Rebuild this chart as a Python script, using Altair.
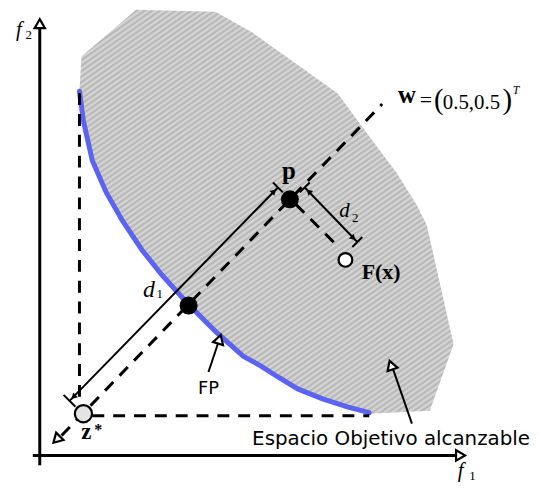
import altair as alt
import pandas as pd

# ---- geometry (image pixel coordinates, y downward) ----
region_x = [82, 137, 217, 253, 340, 373, 400, 420, 430, 457, 433, 372]
region_y = [55, 8, 10, 30, 92, 137, 173, 205, 225, 345, 412, 415]
front_x = [80, 84, 93, 107, 123, 143, 163, 190, 217, 245, 263, 280, 300, 325, 350, 372]
front_y = [90, 120, 160, 192, 220, 250, 275, 305, 332, 357, 367, 378, 390, 400, 408, 414]

axis_seg = [0, 0, 1, 1]
axis_x = [40, 40, 33, 461]
axis_y = [467, 24, 457, 457]

dash_seg = [0, 0, 1, 1, 2, 2, 3, 3]
dash_x = [80, 80, 93, 372, 62, 385, 298, 340]
dash_y = [92, 400, 417, 417, 437, 103, 204, 246]

solid_seg = [0, 0, 1, 1, 2, 2, 3, 3, 4, 4, 5, 5, 6, 6, 7, 7]
solid_x = [70, 280, 64, 76, 275, 285, 307, 360, 302, 312, 355, 365, 210, 220, 415, 396]
solid_y = [402, 187, 396, 408, 182, 192, 187, 242, 192, 182, 247, 237, 373, 343, 425, 370]

head_x = [40, 464, 57, 221, 394]
head_y = [22, 457, 441, 340, 366]
head_angle = [0, 90, 225, 17, 341]

small_head_x = [74, 276, 311, 356]
small_head_y = [398, 191, 191, 238]
small_head_angle = [225, 45, 315, 135]

dot_x = [190, 292]
dot_y = [306, 199]

zstar_x, zstar_y = [84], [415]
fx_x, fx_y = [348], [260]

W, H = 523, 473
xs = alt.Scale(domain=[8, 8 + W], nice=False, zero=False)
ys = alt.Scale(domain=[8 + H, 8], nice=False, zero=False)


def enc(**kw):
    return dict(x=alt.X("x:Q", scale=xs, axis=None), y=alt.Y("y:Q", scale=ys, axis=None), **kw)


# hatched grey fill (diagonal stripes) as a repeating linear gradient
stripe_light, stripe_dark = "#dadada", "#b3b3b3"
n_half = 240
stops = [alt.GradientStop(offset=i / n_half, color=stripe_light if i % 2 == 0 else stripe_dark)
         for i in range(n_half + 1)]
hatch = alt.LinearGradient(gradient="linear", stops=stops, x1=0, y1=0, x2=0.74, y2=1.14)

poly = pd.DataFrame({"x": region_x + front_x[::-1], "y": region_y + front_y[::-1]})
poly["o"] = range(len(poly))
region = alt.Chart(poly).mark_line(fill=hatch, strokeWidth=0).encode(**enc(order="o:Q"))

fdf = pd.DataFrame({"x": front_x, "y": front_y, "o": range(len(front_x))})
front = alt.Chart(fdf).mark_line(color="#5b63f2", strokeWidth=5, strokeCap="round").encode(
    **enc(order="o:Q"))


def segs(sx, sy, sg):
    d = pd.DataFrame({"x": sx, "y": sy, "s": sg})
    d["o"] = range(len(d))
    return d


axes = alt.Chart(segs(axis_x, axis_y, axis_seg)).mark_line(color="black", strokeWidth=3).encode(
    **enc(detail="s:N", order="o:Q"))
dashed = alt.Chart(segs(dash_x, dash_y, dash_seg)).mark_line(
    color="black", strokeWidth=3, strokeDash=[12, 9]).encode(**enc(detail="s:N", order="o:Q"))
solid = alt.Chart(segs(solid_x, solid_y, solid_seg)).mark_line(color="black", strokeWidth=2).encode(
    **enc(detail="s:N", order="o:Q"))

heads = alt.Chart(pd.DataFrame({"x": head_x, "y": head_y, "a": head_angle})).mark_point(
    shape="triangle-up", filled=True, fill="white", stroke="black", strokeWidth=2.2,
    size=110, opacity=1).encode(**enc(angle=alt.Angle("a:Q", scale=None)))
small_heads = alt.Chart(pd.DataFrame({"x": small_head_x, "y": small_head_y, "a": small_head_angle})).mark_point(
    shape="triangle-up", filled=True, color="black", size=45, opacity=1).encode(
    **enc(angle=alt.Angle("a:Q", scale=None)))

dots = alt.Chart(pd.DataFrame({"x": dot_x, "y": dot_y})).mark_point(
    shape="circle", filled=True, color="black", size=330, opacity=1).encode(**enc())
zstar = alt.Chart(pd.DataFrame({"x": zstar_x, "y": zstar_y})).mark_point(
    shape="circle", filled=True, fill="#e4e4e4", stroke="black", strokeWidth=2.2, size=300,
    opacity=1).encode(**enc())
fx = alt.Chart(pd.DataFrame({"x": fx_x, "y": fx_y})).mark_point(
    shape="circle", filled=True, fill="white", stroke="black", strokeWidth=2.2, size=190,
    opacity=1).encode(**enc())


def txt(xv, yv, tv, **kw):
    d = pd.DataFrame({"x": xv, "y": yv, "t": tv})
    base = dict(baseline="alphabetic", align="center", color="black")
    base.update(kw)
    return alt.Chart(d).mark_text(**base).encode(**enc(text="t:N"))


serif = "Liberation Serif"
sans = "DejaVu Sans"

f_lbl = txt([19, 464], [34, 479], ["f", "f"], font=serif, fontStyle="italic", fontSize=21)
d1_lbl = txt([150], [297], ["d"], font=serif, fontStyle="italic", fontSize=24)
d2_lbl = txt([347], [217], ["d"], font=serif, fontStyle="italic", fontSize=21)
subs = txt([29, 476, 161, 358], [37, 482, 298, 222], ["2", "1", "1", "2"],
           font=serif, fontSize=13)
w_lbl = txt([410], [102], ["w"], font=serif, fontWeight="bold", fontSize=25)
p_lbl = txt([291], [178], ["p"], font=serif, fontWeight="bold", fontSize=25)
eq = txt([429], [106], ["="], font=serif, fontSize=22)
parens = txt([442, 511], [108, 108], ["(", ")"], font=serif, fontSize=29)
nums = txt([475], [108], ["0.5,0.5"], font=serif, fontSize=21)
sup_t = txt([520], [93], ["T"], font=serif, fontStyle="italic", fontSize=12)
fx_lbl = txt([384], [279], ["F(x)"], font=serif, fontWeight="bold", fontSize=22)
z_lbl = txt([87], [440], ["z"], font=serif, fontWeight="bold", fontSize=23)
z_star = txt([99], [436], ["*"], font=serif, fontWeight="bold", fontSize=16)
fp_lbl = txt([210], [395], ["FP"], font=sans, fontSize=18)
esp_lbl = txt([394], [447], ["Espacio Objetivo alcanzable"], font=sans, fontSize=20)

chart = alt.layer(
    region, front, axes, dashed, solid, heads, small_heads, dots, zstar, fx,
    f_lbl, d1_lbl, d2_lbl, subs, w_lbl, p_lbl, eq, parens, nums, sup_t, fx_lbl, z_lbl, z_star,
    fp_lbl, esp_lbl,
).properties(width=W, height=H, padding=0, background="white").configure_view(stroke=None)

chart.save("out.html", embed_options={"renderer": "svg", "actions": False})
